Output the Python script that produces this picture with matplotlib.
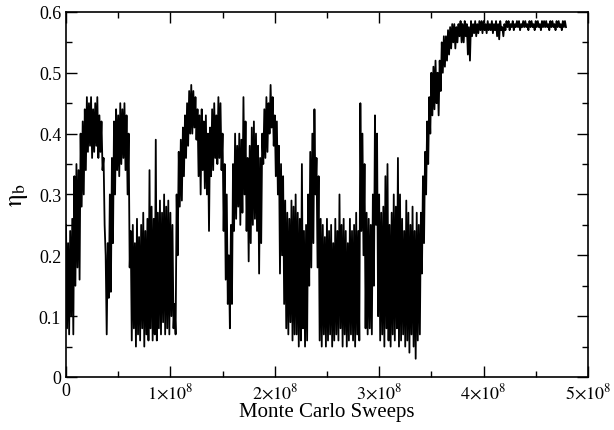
import numpy as np
import matplotlib
matplotlib.use('Agg')
import matplotlib.pyplot as plt
from matplotlib.ticker import MultipleLocator, FuncFormatter

# top and bottom of the noisy eta_b band, read every 2e6 sweeps (0 .. 4.78e8)
eta_upper = [
    0.25, 0.22, 0.24, 0.26, 0.33, 0.35, 0.34, 0.40, 0.42, 0.44,
    0.46, 0.45, 0.46, 0.44, 0.45, 0.46, 0.43, 0.42, 0.36, 0.20,
    0.22, 0.30, 0.36, 0.42, 0.44, 0.43, 0.45, 0.44, 0.45, 0.43,
    0.40, 0.24, 0.25, 0.22, 0.26, 0.23, 0.25, 0.27, 0.24, 0.26,
    0.34, 0.28, 0.26, 0.39, 0.27, 0.29, 0.27, 0.30, 0.28, 0.29,
    0.27, 0.25, 0.12, 0.30, 0.37, 0.39, 0.41, 0.43, 0.45, 0.47,
    0.48, 0.47, 0.46, 0.44, 0.43, 0.44, 0.42, 0.43, 0.40, 0.41,
    0.44, 0.45, 0.43, 0.46, 0.45, 0.40, 0.35, 0.30, 0.20, 0.25,
    0.35, 0.40, 0.38, 0.40, 0.39, 0.46, 0.42, 0.36, 0.38, 0.41,
    0.42, 0.40, 0.38, 0.36, 0.40, 0.44, 0.46, 0.45, 0.48, 0.46,
    0.43, 0.42, 0.38, 0.35, 0.33, 0.29, 0.27, 0.26, 0.29, 0.28,
    0.30, 0.27, 0.26, 0.35, 0.24, 0.25, 0.30, 0.37, 0.40, 0.44,
    0.36, 0.33, 0.26, 0.25, 0.23, 0.26, 0.24, 0.25, 0.22, 0.26,
    0.24, 0.30, 0.25, 0.26, 0.24, 0.22, 0.26, 0.24, 0.25, 0.27,
    0.24, 0.45, 0.40, 0.35, 0.27, 0.26, 0.25, 0.30, 0.43, 0.40,
    0.30, 0.27, 0.28, 0.33, 0.35, 0.25, 0.27, 0.30, 0.28, 0.36,
    0.30, 0.26, 0.24, 0.29, 0.27, 0.25, 0.28, 0.24, 0.27, 0.25,
    0.27, 0.33, 0.37, 0.42, 0.46, 0.50, 0.51, 0.52, 0.50, 0.52,
    0.55, 0.56, 0.56, 0.57, 0.575, 0.58, 0.58, 0.575, 0.58, 0.585,
    0.58, 0.585, 0.58, 0.575, 0.585, 0.58, 0.585, 0.58, 0.585, 0.585,
    0.585, 0.58, 0.585, 0.58, 0.585, 0.58, 0.585, 0.58, 0.585, 0.575,
    0.58, 0.585, 0.585, 0.58, 0.585, 0.58, 0.585, 0.585, 0.58, 0.585,
    0.585, 0.58, 0.585, 0.585, 0.58, 0.585, 0.585, 0.58, 0.585, 0.585,
    0.585, 0.58, 0.585, 0.585, 0.58, 0.585, 0.585, 0.58, 0.585, 0.585,
]
eta_lower = [
    0.08, 0.07, 0.10, 0.07, 0.15, 0.18, 0.16, 0.28, 0.30, 0.34,
    0.37, 0.38, 0.36, 0.37, 0.38, 0.36, 0.37, 0.34, 0.25, 0.07,
    0.13, 0.14, 0.22, 0.30, 0.34, 0.33, 0.35, 0.36, 0.34, 0.30,
    0.18, 0.06, 0.08, 0.05, 0.07, 0.06, 0.08, 0.05, 0.07, 0.06,
    0.08, 0.06, 0.07, 0.06, 0.08, 0.07, 0.09, 0.07, 0.08, 0.07,
    0.10, 0.08, 0.07, 0.20, 0.28, 0.29, 0.33, 0.36, 0.38, 0.40,
    0.40, 0.41, 0.39, 0.33, 0.30, 0.34, 0.31, 0.30, 0.24, 0.33,
    0.34, 0.36, 0.35, 0.36, 0.34, 0.24, 0.16, 0.12, 0.08, 0.12,
    0.24, 0.26, 0.28, 0.25, 0.27, 0.30, 0.24, 0.19, 0.22, 0.25,
    0.26, 0.24, 0.17, 0.22, 0.35, 0.36, 0.37, 0.40, 0.41, 0.38,
    0.33, 0.30, 0.17, 0.20, 0.12, 0.08, 0.07, 0.09, 0.06, 0.07,
    0.07, 0.05, 0.06, 0.08, 0.05, 0.06, 0.15, 0.18, 0.22, 0.30,
    0.18, 0.06, 0.05, 0.07, 0.05, 0.06, 0.07, 0.05, 0.06, 0.07,
    0.06, 0.08, 0.05, 0.07, 0.05, 0.06, 0.07, 0.06, 0.05, 0.07,
    0.06, 0.24, 0.20, 0.08, 0.07, 0.08, 0.07, 0.15, 0.25, 0.10,
    0.06, 0.07, 0.05, 0.08, 0.06, 0.05, 0.07, 0.06, 0.08, 0.05,
    0.06, 0.07, 0.05, 0.06, 0.04, 0.07, 0.05, 0.03, 0.06, 0.07,
    0.17, 0.22, 0.30, 0.35, 0.40, 0.43, 0.44, 0.45, 0.43, 0.47,
    0.50, 0.51, 0.52, 0.53, 0.54, 0.55, 0.54, 0.55, 0.56, 0.55,
    0.55, 0.56, 0.53, 0.52, 0.56, 0.565, 0.56, 0.565, 0.57, 0.565,
    0.57, 0.565, 0.57, 0.57, 0.565, 0.57, 0.56, 0.555, 0.57, 0.56,
    0.57, 0.575, 0.57, 0.575, 0.57, 0.575, 0.575, 0.57, 0.575, 0.575,
    0.575, 0.57, 0.575, 0.575, 0.57, 0.575, 0.575, 0.57, 0.575, 0.575,
    0.575, 0.57, 0.575, 0.575, 0.57, 0.575, 0.575, 0.57, 0.575, 0.575,
]
sample_step = 2e6

# the trace swings between the band edges, top then bottom
eta_b = np.ravel(np.column_stack([eta_upper, eta_lower]))
sweeps = np.arange(len(eta_b)) * sample_step / 2

plt.rcParams['font.family'] = 'Liberation Serif'
plt.rcParams['mathtext.fontset'] = 'stix'

fig = plt.figure(figsize=(6.14, 4.31), dpi=100)
ax = fig.add_axes([0.1075, 0.123, 0.850, 0.847])
ax.plot(sweeps, eta_b, color='black', linewidth=1.3)

ax.set_xlim(0, 5e8)
ax.set_ylim(0, 0.6)
ax.xaxis.set_major_locator(MultipleLocator(1e8))
ax.xaxis.set_minor_locator(MultipleLocator(0.5e8))
ax.yaxis.set_major_locator(MultipleLocator(0.1))
ax.yaxis.set_minor_locator(MultipleLocator(0.05))

def xfmt(v, pos):
    n = int(round(v / 1e8))
    if n == 0:
        return '0'
    return r'$%d{\times}10^{8}$' % n

def yfmt(v, pos):
    if abs(v) < 1e-9:
        return '0'
    return '%.1f' % v

ax.xaxis.set_major_formatter(FuncFormatter(xfmt))
ax.yaxis.set_major_formatter(FuncFormatter(yfmt))
ax.tick_params(which='both', direction='in', top=True, right=True, labelsize=13, width=1)
ax.tick_params(which='major', length=8)
ax.tick_params(which='minor', length=4)
for s in ax.spines.values():
    s.set_linewidth(1.2)

ax.set_xlabel('Monte Carlo Sweeps', fontsize=15, labelpad=0)
ax.set_ylabel(r'$\mathrm{\eta}_{\mathrm{b}}$', fontsize=18, labelpad=6)

fig.savefig('out.png', dpi=100)
